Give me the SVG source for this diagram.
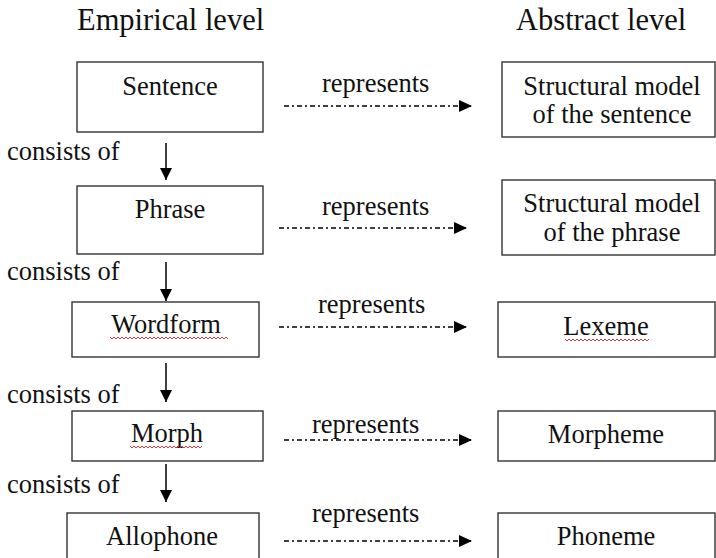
<svg xmlns="http://www.w3.org/2000/svg" width="716" height="558" viewBox="0 0 716 558">
<style>
.box{fill:#fff;stroke:#333;stroke-width:1.4}
.t{font-family:"Liberation Serif","Times New Roman","DejaVu Serif",serif;font-size:26.5px;fill:#111}
.h{font-family:"Liberation Serif","Times New Roman","DejaVu Serif",serif;font-size:30.5px;fill:#111}
.m{text-anchor:middle}
.down{stroke:#000;stroke-width:1.5;fill:none}
.rep{stroke:#000;stroke-width:1.3;fill:none;stroke-dasharray:5 3 2 3}
.sq{stroke:#e02020;stroke-width:0.9;fill:none}
</style>
<defs>
<marker id="ah" markerWidth="12" markerHeight="12" refX="12" refY="6" orient="auto" markerUnits="userSpaceOnUse">
<path d="M0,0 L12,6 L0,12 Z" fill="#000"/>
</marker>
<marker id="ah2" markerWidth="14" markerHeight="14" refX="13" refY="6" orient="auto" markerUnits="userSpaceOnUse">
<path d="M0,0 L13,6 L0,12 Z" fill="#000"/>
</marker>
</defs>
<rect width="716" height="558" fill="#fff"/>
<text class="h" x="77" y="30">Empirical level</text>
<text class="h" x="516" y="30">Abstract level</text>

<g id="sentence"><rect class="box" x="77" y="62" width="186" height="70"/><text class="t m" x="170" y="95">Sentence</text></g>
<g id="phrase"><rect class="box" x="77" y="186" width="186" height="68"/><text class="t m" x="170" y="218">Phrase</text></g>
<g id="wordform"><rect class="box" x="72" y="302" width="187" height="55"/><text class="t m" x="166" y="333">Wordform</text>
<path class="sq" d="M110,337 l2,2 l2,-2 l2,2 l2,-2 l2,2 l2,-2 l2,2 l2,-2 l2,2 l2,-2 l2,2 l2,-2 l2,2 l2,-2 l2,2 l2,-2 l2,2 l2,-2 l2,2 l2,-2 l2,2 l2,-2 l2,2 l2,-2 l2,2 l2,-2 l2,2 l2,-2 l2,2 l2,-2 l2,2 l2,-2 l2,2 l2,-2 l2,2 l2,-2 l2,2 l2,-2 l2,2 l2,-2 l2,2 l2,-2 l2,2 l2,-2 l2,2 l2,-2 l2,2 l2,-2 l2,2 l2,-2 l2,2 l2,-2 l2,2 l2,-2 l2,2 l2,-2 l2,2 l2,-2 l2,2"/></g>
<g id="morph"><rect class="box" x="72" y="411" width="191" height="50"/><text class="t m" x="167" y="442">Morph</text>
<path class="sq" d="M130,446 l2,2 l2,-2 l2,2 l2,-2 l2,2 l2,-2 l2,2 l2,-2 l2,2 l2,-2 l2,2 l2,-2 l2,2 l2,-2 l2,2 l2,-2 l2,2 l2,-2 l2,2 l2,-2 l2,2 l2,-2 l2,2 l2,-2 l2,2 l2,-2 l2,2 l2,-2 l2,2 l2,-2 l2,2 l2,-2 l2,2 l2,-2 l2,2 l2,-2"/></g>
<g id="allophone"><rect class="box" x="67" y="513" width="192" height="50"/><text class="t m" x="162" y="545">Allophone</text></g>

<g id="sm-sentence"><rect class="box" x="502" y="62" width="213" height="75"/><text class="t m" x="612" y="95">Structural model</text><text class="t m" x="612" y="123">of the sentence</text></g>
<g id="sm-phrase"><rect class="box" x="502" y="180" width="213" height="75"/><text class="t m" x="612" y="211.5">Structural model</text><text class="t m" x="612" y="240.5">of the phrase</text></g>
<g id="lexeme"><rect class="box" x="498" y="302" width="217" height="55"/><text class="t m" x="606" y="335">Lexeme</text>
<path class="sq" d="M565,339 l2,2 l2,-2 l2,2 l2,-2 l2,2 l2,-2 l2,2 l2,-2 l2,2 l2,-2 l2,2 l2,-2 l2,2 l2,-2 l2,2 l2,-2 l2,2 l2,-2 l2,2 l2,-2 l2,2 l2,-2 l2,2 l2,-2 l2,2 l2,-2 l2,2 l2,-2 l2,2 l2,-2 l2,2 l2,-2 l2,2 l2,-2 l2,2 l2,-2 l2,2 l2,-2 l2,2 l2,-2 l2,2 l2,-2"/></g>
<g id="morpheme"><rect class="box" x="498" y="411" width="217" height="50"/><text class="t m" x="606" y="443">Morpheme</text></g>
<g id="phoneme"><rect class="box" x="498" y="513" width="217" height="50"/><text class="t m" x="606" y="545">Phoneme</text></g>

<g id="labels">
<text class="t" x="7" y="160">consists of</text>
<text class="t" x="7" y="280">consists of</text>
<text class="t" x="7" y="403">consists of</text>
<text class="t" x="7" y="493">consists of</text>
<text class="t" x="322" y="92">represents</text>
<text class="t" x="322" y="215">represents</text>
<text class="t" x="318" y="313">represents</text>
<text class="t" x="312" y="433">represents</text>
<text class="t" x="312" y="522">represents</text>
</g>

<g id="connectors">
<line class="down" x1="166" y1="143" x2="166" y2="180" marker-end="url(#ah)"/>
<line class="down" x1="166" y1="262" x2="166" y2="301" marker-end="url(#ah)"/>
<line class="down" x1="166" y1="363" x2="166" y2="402" marker-end="url(#ah)"/>
<line class="down" x1="166" y1="464" x2="166" y2="502" marker-end="url(#ah)"/>
<line class="rep" x1="284" y1="106" x2="472" y2="106" marker-end="url(#ah2)"/>
<line class="rep" x1="279" y1="228" x2="467" y2="228" marker-end="url(#ah2)"/>
<line class="rep" x1="279" y1="327" x2="467" y2="327" marker-end="url(#ah2)"/>
<line class="rep" x1="284" y1="440" x2="472" y2="440" marker-end="url(#ah2)"/>
<line class="rep" x1="284" y1="541" x2="472" y2="541" marker-end="url(#ah2)"/>
</g>
</svg>
